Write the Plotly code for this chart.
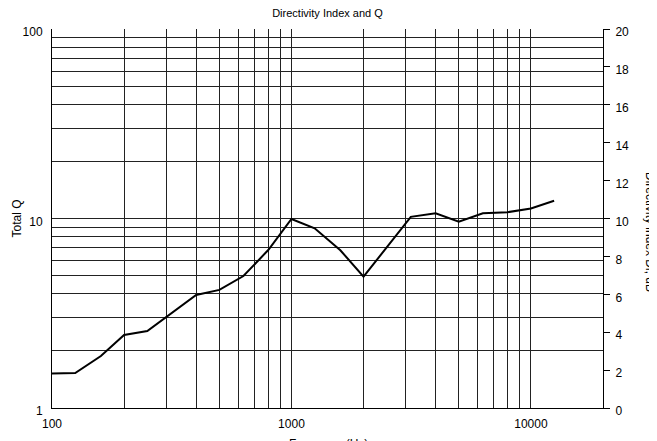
import numpy as np
import plotly.graph_objects as go

freq = [100, 125, 160, 200, 250, 315, 400, 500, 630, 800, 1000, 1250, 1600,
        2000, 2500, 3150, 4000, 5000, 6300, 8000, 10000, 12500]
total_q = [1.52, 1.53, 1.88, 2.43, 2.55, 3.15, 3.95, 4.2, 4.97, 6.82, 9.94, 8.88, 6.8,
           4.93, 7.05, 10.2, 10.65, 9.62, 10.65, 10.8, 11.3, 12.4]
di_db = [10 * np.log10(q) for q in total_q]

x_grid = [100, 200, 300, 400, 500, 600, 700, 800, 900,
          1000, 2000, 3000, 4000, 5000, 6000, 7000, 8000, 9000, 10000]
x_labels = {100: "100", 1000: "1000", 10000: "10000"}
y_grid = [1, 2, 3, 4, 5, 6, 7, 8, 9, 10, 20, 30, 40, 50, 60, 70, 80, 90, 100]
y_labels = {1: "1", 10: "10", 100: "100"}
di_ticks = [0, 2, 4, 6, 8, 10, 12, 14, 16, 18, 20]

FONT = "Liberation Sans, Arial, sans-serif"

# the page body has an 8px margin; size the figure to fill the window from there
W, H = 649, 433
L, R, T, B = 44, 54, 21, 33
PW, PH = W - L - R, H - T - B

fig = go.Figure()
fig.add_trace(go.Scatter(x=freq, y=total_q, mode="lines",
                         line=dict(color="black", width=2), showlegend=False,
                         hoverinfo="x+y"))
fig.add_trace(go.Scatter(x=freq, y=di_db, yaxis="y2", mode="lines",
                         line=dict(color="black", width=1), opacity=0,
                         showlegend=False, hoverinfo="skip"))

fig.update_layout(
    width=W, height=H,
    margin=dict(l=L, r=R, t=T, b=B, autoexpand=False),
    paper_bgcolor="white", plot_bgcolor="white",
    font=dict(family=FONT, size=12, color="black"),
    title=dict(text="Directivity Index and Q", x=(L + PW / 2) / W, xanchor="center",
               y=1 - 5 / H, yanchor="middle", yref="container",
               font=dict(size=11, color="black")),
    xaxis=dict(type="log", range=[2, np.log10(20000)],
               tickmode="array", tickvals=x_grid,
               ticktext=[x_labels.get(v, "") for v in x_grid],
               showgrid=True, gridcolor="#222", gridwidth=1,
               showline=True, linecolor="black", linewidth=1,
               ticks="", zeroline=False, tickfont=dict(size=12),
               ticklabelstandoff=5, automargin=False),
    yaxis=dict(type="log", range=[0, 2],
               tickmode="array", tickvals=y_grid,
               ticktext=[y_labels.get(v, "") for v in y_grid],
               showgrid=True, gridcolor="#222", gridwidth=1,
               showline=True, linecolor="black", linewidth=1,
               ticks="", zeroline=False, tickfont=dict(size=12),
               ticklabelstandoff=6, ticklabelshift=3, automargin=False),
    yaxis2=dict(overlaying="y", side="right", range=[0, 20],
                tickmode="array", tickvals=di_ticks,
                showgrid=False, zeroline=False,
                showline=True, linecolor="black", linewidth=1,
                ticks="outside", ticklen=6, tickcolor="black",
                tickfont=dict(size=12), ticklabelstandoff=3, ticklabelshift=3,
                automargin=False),
    annotations=[
        dict(text="Total Q", xref="paper", yref="paper", x=-36 / PW, y=0.5,
             textangle=-90, showarrow=False, xanchor="center", yanchor="middle",
             font=dict(size=12)),
        dict(text="Directivity index Di, dB", xref="paper", yref="paper",
             x=1 + 47 / PW, y=(408 - 232) / PH,
             textangle=90, showarrow=False, xanchor="center", yanchor="middle",
             font=dict(size=12)),
        dict(text="Frequency(Hz)", xref="paper", yref="paper",
             x=(328 - 52) / PW, y=-(435 - 408) / PH,
             showarrow=False, xanchor="center", yanchor="top",
             font=dict(size=12)),
    ],
)

fig.write_html("out.html")
